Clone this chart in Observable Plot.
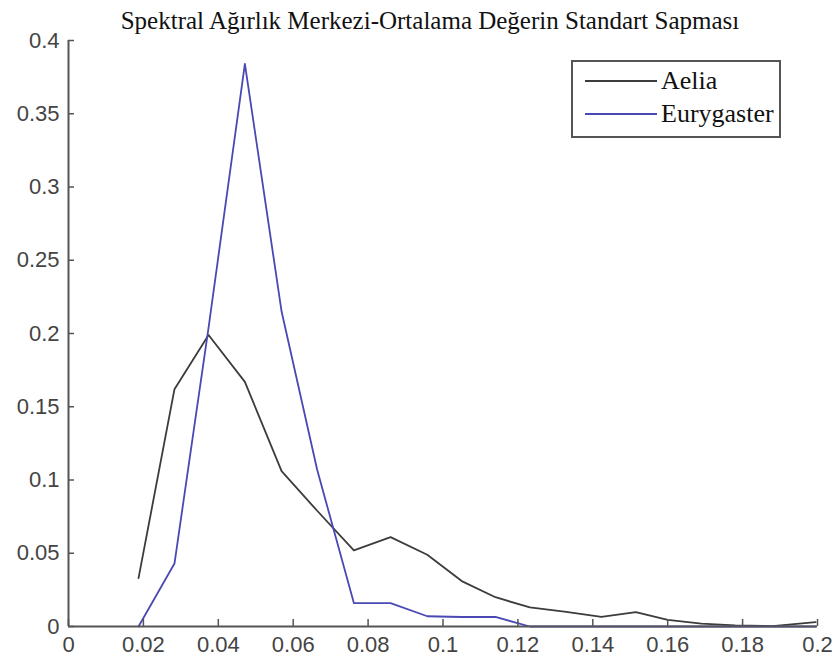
<!DOCTYPE html>
<html><head><meta charset="utf-8">
<script src="https://cdn.jsdelivr.net/npm/d3@7"></script>
<script src="https://cdn.jsdelivr.net/npm/@observablehq/plot@0.6"></script>
<style>body{margin:0;background:#fff}#chart svg{display:block}</style>
</head><body><div id="chart"></div>
<script>
const titleText = "Spektral Ağırlık Merkezi-Ortalama Değerin Standart Sapması";
const seriesNames = ["Aelia", "Eurygaster"];
const binCenters = [0.0187, 0.0283, 0.0374, 0.0471, 0.0569, 0.0664, 0.0762, 0.0860, 0.0958, 0.1050, 0.1140, 0.1232, 0.1329, 0.1423, 0.1515, 0.1600, 0.1690, 0.1780, 0.1880, 0.1995];
const aelia      = [0.033, 0.162, 0.199, 0.167, 0.106, 0.079, 0.052, 0.061, 0.049, 0.031, 0.020, 0.013, 0.010, 0.0065, 0.0098, 0.0045, 0.002, 0.0008, 0.0003, 0.003];
const eurygaster = [0, 0.043, 0.204, 0.384, 0.215, 0.107, 0.016, 0.016, 0.007, 0.0065, 0.0065, 0, 0, 0, 0, 0, 0, 0, 0, 0];
const xTicks = [0, 0.02, 0.04, 0.06, 0.08, 0.1, 0.12, 0.14, 0.16, 0.18, 0.2];
const yTicks = [0, 0.05, 0.1, 0.15, 0.2, 0.25, 0.3, 0.35, 0.4];
const colors = ["#3c3c3c", "#4a48b4"];

const data = [];
binCenters.forEach((x, i) => {
  data.push({x, y: aelia[i], s: seriesNames[0]});
  data.push({x, y: eurygaster[i], s: seriesNames[1]});
});

const W = 837, H = 664, mL = 68, mR = 20, mT = 40, mB = 38;
const xDom = [0, 0.2], yDom = [0, 0.4];
const frameW = W - mL - mR, frameH = H - mT - mB;
// inward tick lengths (6–7 px) expressed in data units
const xTickLen = 7 / frameH * (yDom[1] - yDom[0]);
const yTickLen = 6 / frameW * (xDom[1] - xDom[0]);
const fmt = d => String(+d.toFixed(2));
const tickFont = "'Liberation Sans', Arial, sans-serif";
const serif = "'Liberation Serif', 'Times New Roman', serif";

const chart = Plot.plot({
  width: W, height: H,
  marginLeft: mL, marginRight: mR, marginTop: mT, marginBottom: mB,
  style: {background: "#fff", overflow: "visible"},
  x: {domain: xDom, axis: null},
  y: {domain: yDom, axis: null},
  color: {domain: seriesNames, range: colors},
  marks: [
    Plot.line(data, {x: "x", y: "y", z: "s", stroke: "s", strokeWidth: 1.8}),
    Plot.ruleX([0], {stroke: "#555", strokeWidth: 2}),
    Plot.ruleY([0], {stroke: "#555", strokeWidth: 2}),
    Plot.ruleY(yTicks, {y: d => d, x1: 0, x2: yTickLen, stroke: "#555", strokeWidth: 1.5}),
    Plot.ruleX(xTicks, {x: d => d, y1: 0, y2: xTickLen, stroke: "#555", strokeWidth: 1.5}),
    Plot.axisY(yTicks, {anchor: "left", tickSize: 0, tickPadding: 9, tickFormat: fmt, fontSize: 22, fontFamily: tickFont, fill: "#444", label: null}),
    Plot.axisX(xTicks, {anchor: "bottom", tickSize: 0, tickPadding: 10, tickFormat: fmt, fontSize: 22, fontFamily: tickFont, fill: "#444", label: null})
  ]
});

const svg = d3.select(chart);
svg.append("text")
  .attr("x", 430).attr("y", 29)
  .attr("text-anchor", "middle")
  .attr("font-family", serif)
  .attr("font-size", 25).attr("fill", "#111")
  .text(titleText);

const lg = svg.append("g");
lg.append("rect").attr("x", 572).attr("y", 61).attr("width", 208).attr("height", 76)
  .attr("fill", "#fff").attr("stroke", "#555").attr("stroke-width", 2);
const rowsY = [81, 114];
seriesNames.forEach((name, i) => {
  lg.append("line").attr("x1", 585).attr("x2", 657).attr("y1", rowsY[i]).attr("y2", rowsY[i])
    .attr("stroke", colors[i]).attr("stroke-width", 2);
  lg.append("text").attr("x", 661).attr("y", rowsY[i] + 8)
    .attr("text-anchor", "start")
    .attr("font-family", serif)
    .attr("font-size", 26).attr("fill", "#111").text(name);
});

document.getElementById("chart").appendChild(chart);
</script>
</body></html>
